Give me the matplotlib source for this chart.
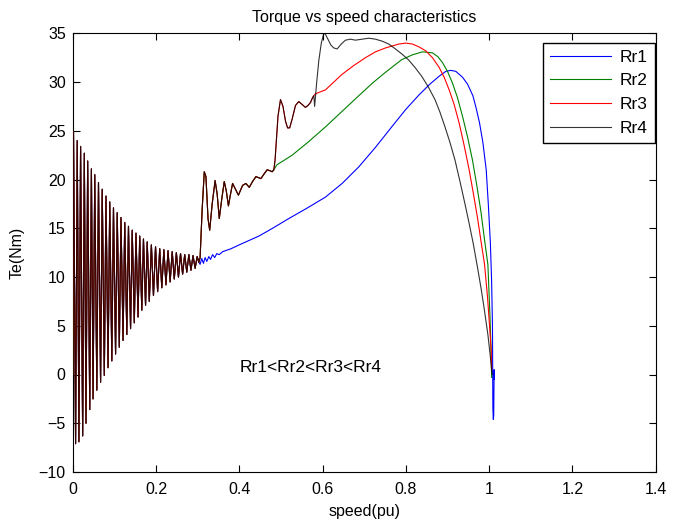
import matplotlib.pyplot as plt

# start-up transient shared by all four rotor resistances (peaks / troughs)
common_speed = [0.000, 0.002, 0.007, 0.011, 0.015, 0.019, 0.024, 0.028, 0.032, 0.036,
                0.041, 0.045, 0.049, 0.053, 0.058, 0.062, 0.067, 0.071, 0.076, 0.080,
                0.085, 0.089, 0.094, 0.098, 0.103, 0.107, 0.112, 0.116, 0.121, 0.125,
                0.130, 0.134, 0.139, 0.143, 0.148, 0.152, 0.157, 0.161, 0.166, 0.170,
                0.175, 0.179, 0.184, 0.189, 0.194, 0.199, 0.204, 0.209, 0.214, 0.219,
                0.224, 0.229, 0.234, 0.239, 0.244, 0.249, 0.254, 0.259, 0.264, 0.269,
                0.274, 0.279, 0.284, 0.289, 0.294, 0.299, 0.303]
common_torque = [0.0, 24.9, -7.1, 24.0, -6.9, 23.4, -6.3, 22.7, -5.0, 21.9,
                 -3.6, 21.1, -2.5, 20.5, -1.6, 19.7, -0.8, 19.0, -0.1, 18.3,
                 0.7, 17.7, 1.4, 17.1, 2.1, 16.6, 2.8, 16.1, 3.5, 15.6,
                 4.1, 15.2, 4.7, 14.8, 5.3, 14.5, 5.9, 14.2, 6.6, 13.9,
                 7.1, 13.6, 7.5, 13.3, 8.1, 13.1, 8.5, 12.9, 8.9, 12.8,
                 9.2, 12.7, 9.5, 12.6, 9.8, 12.5, 10.0, 12.4, 10.3, 12.3,
                 10.5, 12.3, 10.7, 12.2, 10.9, 12.1, 11.5]

# shared by Rr2, Rr3, Rr4
step_speed = [0.306, 0.311, 0.316, 0.320, 0.325, 0.329, 0.335, 0.342, 0.347, 0.352,
              0.358, 0.364, 0.369, 0.374, 0.379, 0.384, 0.391, 0.398, 0.408, 0.416,
              0.424, 0.432, 0.440, 0.446, 0.452, 0.460, 0.467, 0.474, 0.479, 0.483]
step_torque = [12.0, 17.0, 20.8, 20.3, 16.0, 14.8, 17.5, 19.9, 18.5, 16.0,
               18.0, 19.8, 18.8, 17.3, 18.5, 19.6, 19.0, 18.4, 19.4, 19.6,
               19.2, 19.8, 20.3, 20.2, 20.1, 20.6, 21.0, 20.9, 20.8, 21.0]

# shared by Rr3, Rr4
mid_speed = [0.486, 0.489, 0.493, 0.499, 0.505, 0.511, 0.516, 0.521, 0.527, 0.535,
             0.543, 0.551, 0.559, 0.565, 0.571, 0.576, 0.579]
mid_torque = [22.0, 23.9, 26.5, 28.2, 27.5, 26.0, 25.3, 25.3, 26.2, 27.6,
              28.0, 27.7, 27.4, 27.6, 27.9, 28.4, 28.6]

rr1_speed = [0.306, 0.310, 0.314, 0.318, 0.322, 0.327, 0.331, 0.336, 0.341, 0.346,
             0.352, 0.360, 0.380, 0.400, 0.447, 0.480, 0.519, 0.560, 0.607, 0.647,
             0.687, 0.727, 0.766, 0.800, 0.832, 0.858, 0.880, 0.896, 0.908, 0.920,
             0.936, 0.948, 0.961, 0.969, 0.977, 0.985, 0.993, 0.998, 1.003, 1.006,
             1.008, 1.009, 1.010, 1.011, 1.012, 1.012]
rr1_torque = [11.3, 11.9, 11.4, 12.0, 11.6, 12.1, 11.8, 12.3, 12.0, 12.4,
              12.3, 12.6, 12.9, 13.3, 14.2, 15.0, 16.0, 17.0, 18.2, 19.6,
              21.3, 23.3, 25.4, 27.2, 28.7, 29.8, 30.6, 31.1, 31.2, 31.1,
              30.5, 29.8, 28.6, 27.3, 25.8, 23.8, 21.0, 17.5, 13.5, 9.5,
              5.0, -3.5, -4.6, -4.2, 0.5, -0.5]

rr2_speed = [0.490, 0.527, 0.567, 0.607, 0.647, 0.687, 0.720, 0.751, 0.790, 0.816,
             0.840, 0.864, 0.877, 0.888, 0.900, 0.912, 0.924, 0.936, 0.948, 0.960,
             0.970, 0.980, 0.989, 0.997, 1.002, 1.005, 1.006]
rr2_torque = [21.5, 22.5, 23.9, 25.4, 27.0, 28.6, 29.9, 31.0, 32.3, 32.8,
              33.1, 33.0, 32.6, 32.0, 31.1, 29.9, 28.4, 26.5, 24.4, 22.0,
              19.5, 16.8, 13.8, 11.3, 6.0, 2.0, -0.3]

rr3_speed = [0.583, 0.607, 0.627, 0.647, 0.675, 0.703, 0.727, 0.751, 0.783, 0.800,
             0.816, 0.832, 0.848, 0.864, 0.880, 0.892, 0.904, 0.916, 0.928, 0.940,
             0.952, 0.962, 0.972, 0.980, 0.989, 0.996, 1.001, 1.005, 1.006]
rr3_torque = [28.8, 29.2, 30.0, 30.8, 31.7, 32.5, 33.1, 33.5, 33.9, 34.0,
              33.9, 33.6, 33.2, 32.5, 31.5, 30.5, 29.2, 27.7, 25.8, 23.5,
              21.0, 18.6, 16.1, 13.8, 11.3, 8.0, 5.0, 2.4, 0.5]

rr4_speed = [0.581, 0.586, 0.591, 0.597, 0.603, 0.607, 0.613, 0.620, 0.627, 0.635,
             0.645, 0.655, 0.667, 0.679, 0.695, 0.711, 0.727, 0.743, 0.759, 0.775,
             0.790, 0.806, 0.822, 0.838, 0.854, 0.870, 0.882, 0.894, 0.906, 0.918,
             0.930, 0.942, 0.952, 0.962, 0.972, 0.980, 0.988, 0.997, 1.003, 1.007]
rr4_torque = [27.5, 30.0, 32.2, 34.0, 35.0, 34.9, 34.4, 33.8, 33.5, 33.4,
              33.9, 34.3, 34.4, 34.3, 34.4, 34.5, 34.4, 34.2, 33.9, 33.4,
              32.9, 32.3, 31.5, 30.6, 29.5, 28.2, 26.9, 25.4, 23.8, 22.0,
              19.8, 17.5, 15.5, 13.4, 11.0, 9.0, 6.8, 4.1, 1.8, 0.0]

labels = ['Rr1', 'Rr2', 'Rr3', 'Rr4']

s1 = common_speed + rr1_speed
t1 = common_torque + rr1_torque
s2 = common_speed + step_speed + rr2_speed
t2 = common_torque + step_torque + rr2_torque
s3 = common_speed + step_speed + mid_speed + rr3_speed
t3 = common_torque + step_torque + mid_torque + rr3_torque
s4 = common_speed + step_speed + mid_speed + rr4_speed
t4 = common_torque + step_torque + mid_torque + rr4_torque

plt.rcParams['font.family'] = ['Liberation Sans', 'DejaVu Sans']

fig = plt.figure(figsize=(6.76, 5.25), dpi=100)
ax = fig.add_axes([0.1075, 0.101, 0.8625, 0.8355])

ax.plot(s1, t1, color='#0000ff', lw=0.8, label=labels[0], zorder=2)
ax.plot(s2, t2, color='#008000', lw=0.8, label=labels[1], zorder=3)
ax.plot(s3, t3, color='#ff0000', lw=0.8, label=labels[2], zorder=4)
ax.plot(s4, t4, color='black', lw=0.8, alpha=0.8, label=labels[3], zorder=5)

ax.text(0.402, 0.7, 'Rr1<Rr2<Rr3<Rr4', fontsize=12.5, va='center')

ax.set_xlim(0, 1.4)
ax.set_ylim(-10, 35)
ax.set_xticks([0, 0.2, 0.4, 0.6, 0.8, 1.0, 1.2, 1.4])
ax.set_xticklabels(['0', '0.2', '0.4', '0.6', '0.8', '1', '1.2', '1.4'])
ax.set_yticks(range(-10, 36, 5))
ax.tick_params(direction='in', top=True, right=True, length=5, labelsize=11.5)
ax.tick_params(axis='x', pad=7)
ax.tick_params(axis='y', pad=5)

ax.set_title('Torque vs speed characteristics', fontsize=11.5, pad=8)
ax.set_xlabel('speed(pu)', fontsize=11.5, labelpad=5)
ax.set_ylabel('Te(Nm)', fontsize=11.5, labelpad=10)

leg = ax.legend(loc='upper right', bbox_to_anchor=(0.998, 0.979), borderaxespad=0,
                fontsize=12.5, handlelength=3.5, handletextpad=0.5, labelspacing=0.5,
                fancybox=False, framealpha=1, edgecolor='black')
leg.get_frame().set_linewidth(1.0)

fig.savefig('out.png', dpi=100)
